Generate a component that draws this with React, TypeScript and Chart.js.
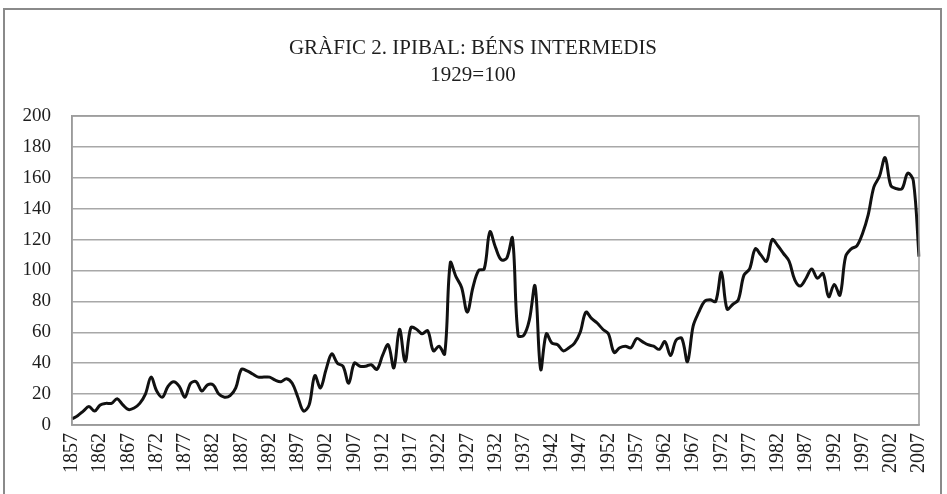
import React, { useEffect, useRef } from "react";
import { Chart, registerables } from "chart.js";

Chart.register(...registerables);

const TITLE = "GRÀFIC 2. IPIBAL: BÉNS INTERMEDIS";
const SUBTITLE = "1929=100";

const FIRST_YEAR = 1857;
const LAST_YEAR = 2007;
const years: string[] = [];
for (let y = FIRST_YEAR; y <= LAST_YEAR; y++) years.push(String(y));

const values1857_1896 = [
  4, 6, 9, 12, 9, 13, 14, 14, 17, 13,
  10, 11, 14, 20, 31, 22, 18, 25, 28, 25,
  18, 27, 28, 22, 26, 26, 20, 18, 19, 24,
  36, 35, 33, 31, 31, 31, 29, 28, 30, 27,
];
const values1897_1936 = [
  18, 9, 13, 32, 24, 36, 46, 40, 38, 27,
  40, 38, 38, 39, 36, 45, 52, 37, 62, 41,
  63, 62, 59, 61, 48, 51, 46, 105, 96, 89,
  73, 89, 100, 101, 125, 115, 107, 108, 121, 58,
];
const values1937_1976 = [
  58, 68, 90, 36, 59, 53, 52, 48, 50, 53,
  60, 73, 69, 66, 62, 59, 47, 50, 51, 50,
  56, 54, 52, 51, 49, 54, 45, 55, 56, 41,
  64, 73, 80, 81, 80, 99, 75, 78, 81, 97,
];
const values1977_2007 = [
  101, 114, 110, 106, 120, 116, 111, 106, 94, 90,
  95, 101, 95, 98, 83, 91, 84, 109, 114, 116,
  124, 136, 154, 161, 173, 155, 153, 153, 163, 158,
  109,
];
const indexValues = [...values1857_1896, ...values1897_1936, ...values1937_1976, ...values1977_2007];

const Y_MIN = 0;
const Y_MAX = 200;
const Y_STEP = 20;
const LABEL_EVERY = 5;

const SERIF = "'Liberation Serif', 'Times New Roman', serif";

const frameAndTitle = {
  id: "frameAndTitle",
  beforeDraw(chart: any) {
    const { ctx } = chart;
    ctx.save();
    ctx.fillStyle = "#ffffff";
    ctx.fillRect(0, 0, chart.width, chart.height);
    ctx.strokeStyle = "#8a8a8a";
    ctx.lineWidth = 2;
    ctx.beginPath();
    ctx.moveTo(4, 500);
    ctx.lineTo(4, 9);
    ctx.lineTo(941, 9);
    ctx.lineTo(941, 500);
    ctx.stroke();
    ctx.fillStyle = "#1e1e1e";
    ctx.textAlign = "center";
    ctx.textBaseline = "middle";
    ctx.font = "21px " + SERIF;
    const cx = 473;
    ctx.fillText(TITLE, cx, 48);
    ctx.fillText(SUBTITLE, cx, 75);
    ctx.restore();
  },
  afterDraw(chart: any) {
    const { ctx, chartArea } = chart;
    ctx.save();
    ctx.strokeStyle = "#9a9a9a";
    ctx.lineWidth = 1.5;
    ctx.strokeRect(chartArea.left, chartArea.top, chartArea.right - chartArea.left, chartArea.bottom - chartArea.top);
    ctx.restore();
  },
};

export default function App() {
  const ref = useRef<HTMLCanvasElement | null>(null);
  useEffect(() => {
    if (!ref.current) return;
    const chart = new Chart(ref.current, {
      type: "line",
      data: {
        labels: years,
        datasets: [
          {
            data: indexValues,
            borderColor: "#111111",
            borderWidth: 3,
            pointRadius: 0,
            tension: 0.35,
            fill: false,
          },
        ],
      },
      options: {
        animation: false,
        responsive: false,
        maintainAspectRatio: false,
        layout: { padding: { top: 116, left: 0, right: 28, bottom: 0 } },
        plugins: { legend: { display: false }, tooltip: { enabled: false } },
        scales: {
          x: {
            type: "category",
            offset: false,
            grid: { display: false, drawTicks: false },
            border: { display: true, color: "#9a9a9a", width: 1.5 },
            ticks: {
              autoSkip: false,
              minRotation: 90,
              maxRotation: 90,
              padding: 8,
              color: "#1e1e1e",
              font: { family: SERIF, size: 20 },
              callback: (_v: any, i: number) => (i % LABEL_EVERY === 0 ? years[i] : ""),
            },
            afterFit: (scale: any) => {
              scale.height = 69;
              scale.paddingLeft = 0;
              scale.paddingRight = 0;
            },
          },
          y: {
            min: Y_MIN,
            max: Y_MAX,
            grid: { color: "#a8a8a8", lineWidth: 1.5, drawTicks: false },
            border: { display: true, color: "#9a9a9a", width: 1.5 },
            ticks: {
              stepSize: Y_STEP,
              padding: 21,
              color: "#1e1e1e",
              font: { family: SERIF, size: 19 },
            },
            afterFit: (scale: any) => {
              scale.width = 72;
              scale.paddingTop = 0;
              scale.paddingBottom = 0;
            },
          },
        },
      },
      plugins: [frameAndTitle],
    });
    return () => chart.destroy();
  }, []);
  return (
    <div style={{ position: "fixed", left: 0, top: 0, width: 947, height: 494, background: "#fff" }}>
      <canvas ref={ref} width={947} height={494} style={{ width: 947, height: 494, display: "block" }} />
    </div>
  );
}
